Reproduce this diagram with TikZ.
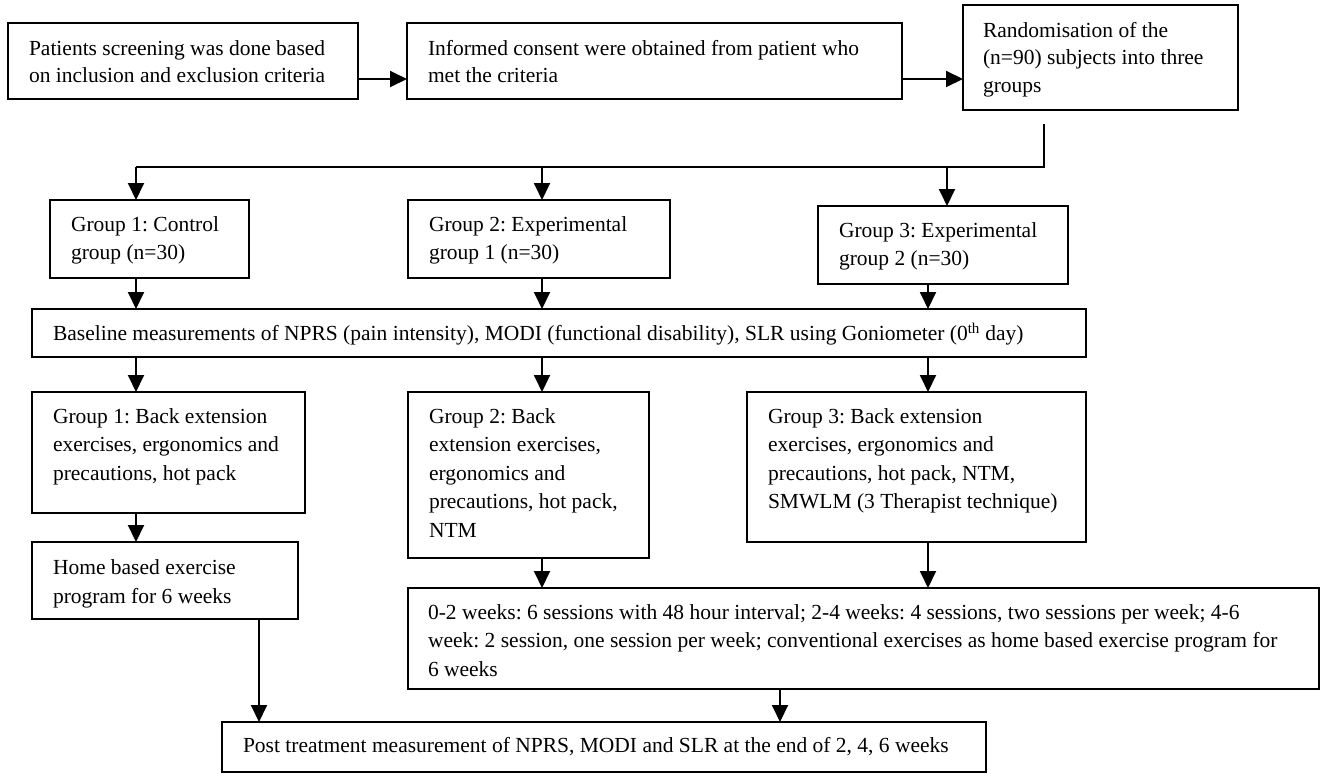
\documentclass[tikz,border=0pt]{standalone}
\usepackage{fontspec}
\setmainfont{Liberation Serif}
\usetikzlibrary{arrows.meta,calc}
\begin{document}
\frenchspacing
\begin{tikzpicture}[x=1pt,y=-1pt,
  box/.style={draw=black, line width=1.9pt, rectangle, anchor=north west, inner sep=0pt, outer sep=0pt},
  txt/.style={anchor=north west, inner sep=0pt, outer sep=0pt, align=left,
    font=\fontsize{21.5}{28.5}\selectfont},
  txtb/.style={txt, font=\fontsize{21.5}{27.5}\selectfont},
  conn/.style={line width=1.9pt, draw=black},
  arr/.style={conn, -{Triangle[length=17pt,width=16pt]}}
]
\useasboundingbox (0,0) rectangle (1327,779);
\fill[white] (0,0) rectangle (1327,779);

% boxes
\node[box, minimum width=350pt, minimum height=76pt] (a) at (8,23) {};
\node[box, minimum width=495pt, minimum height=76pt] (b) at (407,23) {};
\node[box, minimum width=275pt, minimum height=105pt] (c) at (963,5) {};
\node[box, minimum width=199pt, minimum height=78pt] (g1) at (50,200) {};
\node[box, minimum width=262pt, minimum height=78pt] (g2) at (408,200) {};
\node[box, minimum width=250pt, minimum height=78pt] (g3) at (818,206) {};
\node[box, minimum width=1054pt, minimum height=48pt] (base) at (32,309) {};
\node[box, minimum width=273pt, minimum height=121pt] (g1b) at (32,392) {};
\node[box, minimum width=241pt, minimum height=166pt] (g2b) at (408,392) {};
\node[box, minimum width=339pt, minimum height=150pt] (g3b) at (747,392) {};
\node[box, minimum width=266pt, minimum height=77pt] (home) at (32,542) {};
\node[box, minimum width=911pt, minimum height=101pt] (sess) at (408,588) {};
\node[box, minimum width=764pt, minimum height=50pt] (post) at (222,722) {};

% texts
\node[txtb] (ta) at ($(a.north west)+(21,13)$) {\strut Patients screening was done based\\on inclusion and exclusion criteria};
\node[txtb] (tb) at ($(b.north west)+(21,13)$) {\strut Informed consent were obtained from patient who\\met the criteria};
\node[txtb] (tc) at ($(c.north west)+(20,13)$) {\strut Randomisation of the\\(n=90) subjects into three\\groups};
\node[txt] (tg1) at ($(g1.north west)+(21,11.5)$) {\strut Group 1: Control\\group (n=30)};
\node[txt] (tg2) at ($(g2.north west)+(21,11.5)$) {\strut Group 2: Experimental\\group 1 (n=30)};
\node[txt] (tg3) at ($(g3.north west)+(21,11.5)$) {\strut Group 3: Experimental\\group 2 (n=30)};
\node[txt] (tbase) at ($(base.north west)+(21,12)$) {\strut Baseline measurements of NPRS (pain intensity), MODI (functional disability), SLR using Goniometer (0\textsuperscript{th} day)};
\node[txt] (tg1b) at ($(g1b.north west)+(21,11.5)$) {\strut Group 1: Back extension\\exercises, ergonomics and\\precautions, hot pack};
\node[txt] (tg2b) at ($(g2b.north west)+(21,11.5)$) {\strut Group 2: Back\\extension exercises,\\ergonomics and\\precautions, hot pack,\\NTM};
\node[txt] (tg3b) at ($(g3b.north west)+(21,11.5)$) {\strut Group 3: Back extension\\exercises, ergonomics and\\precautions, hot pack, NTM,\\SMWLM (3 Therapist technique)};
\node[txt] (thome) at ($(home.north west)+(21,13)$) {\strut Home based exercise\\program for 6 weeks};
\node[txt] (tsess) at ($(sess.north west)+(20,11.5)$) {\strut 0-2 weeks: 6 sessions with 48 hour interval; 2-4 weeks: 4 sessions, two sessions per week; 4-6\\week: 2 session, one session per week; conventional exercises as home based exercise program for\\6 weeks};
\node[txt] (tpost) at ($(post.north west)+(21,10.5)$) {\strut Post treatment measurement of NPRS, MODI and SLR at the end of 2, 4, 6 weeks};

% columns
\coordinate (c1) at (136,0);
\coordinate (c2) at (542,0);
\coordinate (c3) at (947,0);
\coordinate (c3b) at (928,0);
\coordinate (ch) at (259,0);
\coordinate (cp) at (780,0);
\coordinate (cs) at (1044,124);
\coordinate (split) at (1044,167);

% connectors
\draw[arr] ([yshift=-18pt]a.east) -- ([yshift=-18pt]a.east -| b.west);
\draw[arr] ([yshift=-18pt]b.east) -- ([yshift=-18pt]b.east -| c.west);
\draw[conn] (cs) -- (split) -- (split -| c1);
\draw[arr] (split -| c1) -- (g1.north -| c1);
\draw[arr] (split -| c2) -- (g2.north -| c2);
\draw[arr] (split -| c3) -- (g3.north -| c3);
\draw[arr] (g1.south -| c1) -- (base.north -| c1);
\draw[arr] (g2.south -| c2) -- (base.north -| c2);
\draw[arr] (g3.south -| c3b) -- (base.north -| c3b);
\draw[arr] (base.south -| c1) -- (g1b.north -| c1);
\draw[arr] (base.south -| c2) -- (g2b.north -| c2);
\draw[arr] (base.south -| c3b) -- (g3b.north -| c3b);
\draw[arr] (g1b.south -| c1) -- (home.north -| c1);
\draw[arr] (g2b.south -| c2) -- (sess.north -| c2);
\draw[arr] (g3b.south -| c3b) -- (sess.north -| c3b);
\draw[arr] (home.south -| ch) -- (post.north -| ch);
\draw[arr] (sess.south -| cp) -- (post.north -| cp);
\end{tikzpicture}
\end{document}
